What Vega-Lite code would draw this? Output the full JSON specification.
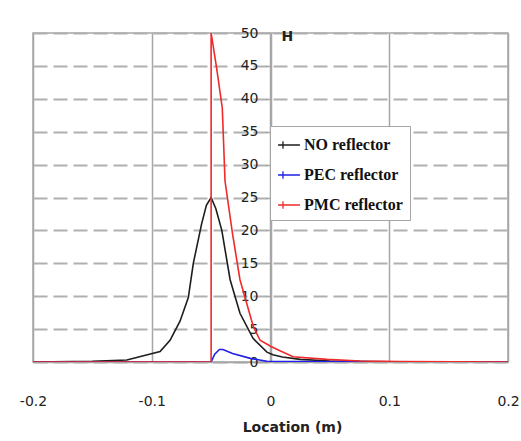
{
  "$schema": "https://vega.github.io/schema/vega-lite/v6.json",
  "autosize": "none",
  "width": 475,
  "height": 329,
  "padding": {"left": 33, "top": 33, "right": 13, "bottom": 79},
  "background": "white",
  "config": {
    "view": {"stroke": "#a6a6a6", "strokeWidth": 1.5},
    "font": "DejaVu Sans"
  },
  "data": {
    "values": [
      {"s": "NO reflector", "i": 1, "x": -0.2, "h": 0},
      {"s": "NO reflector", "i": 2, "x": -0.15, "h": 0.1},
      {"s": "NO reflector", "i": 3, "x": -0.121, "h": 0.3},
      {"s": "NO reflector", "i": 4, "x": -0.093, "h": 1.6},
      {"s": "NO reflector", "i": 5, "x": -0.0846, "h": 3.3},
      {"s": "NO reflector", "i": 6, "x": -0.0762, "h": 6.2},
      {"s": "NO reflector", "i": 7, "x": -0.0692, "h": 9.8},
      {"s": "NO reflector", "i": 8, "x": -0.065, "h": 15},
      {"s": "NO reflector", "i": 9, "x": -0.058, "h": 21},
      {"s": "NO reflector", "i": 10, "x": -0.054, "h": 23.8},
      {"s": "NO reflector", "i": 11, "x": -0.05, "h": 25},
      {"s": "NO reflector", "i": 12, "x": -0.046, "h": 23.3},
      {"s": "NO reflector", "i": 13, "x": -0.041, "h": 20},
      {"s": "NO reflector", "i": 14, "x": -0.034, "h": 12.5},
      {"s": "NO reflector", "i": 15, "x": -0.0257, "h": 7.4},
      {"s": "NO reflector", "i": 16, "x": -0.0147, "h": 3.6},
      {"s": "NO reflector", "i": 17, "x": -0.003, "h": 1.5},
      {"s": "NO reflector", "i": 18, "x": 0.002, "h": 1.1},
      {"s": "NO reflector", "i": 19, "x": 0.01, "h": 0.75},
      {"s": "NO reflector", "i": 20, "x": 0.025, "h": 0.4},
      {"s": "NO reflector", "i": 21, "x": 0.05, "h": 0.15},
      {"s": "NO reflector", "i": 22, "x": 0.1, "h": 0.03},
      {"s": "NO reflector", "i": 23, "x": 0.2, "h": 0},
      {"s": "PEC reflector", "i": 1, "x": -0.2, "h": 0},
      {"s": "PEC reflector", "i": 2, "x": -0.05, "h": 0},
      {"s": "PEC reflector", "i": 3, "x": -0.047, "h": 1.2},
      {"s": "PEC reflector", "i": 4, "x": -0.043, "h": 1.9},
      {"s": "PEC reflector", "i": 5, "x": -0.04, "h": 1.9},
      {"s": "PEC reflector", "i": 6, "x": -0.032, "h": 1.3},
      {"s": "PEC reflector", "i": 7, "x": -0.017, "h": 0.55},
      {"s": "PEC reflector", "i": 8, "x": -0.003, "h": 0.1},
      {"s": "PEC reflector", "i": 9, "x": 0.02, "h": 0.05},
      {"s": "PEC reflector", "i": 10, "x": 0.2, "h": 0},
      {"s": "PMC reflector", "i": 1, "x": -0.2, "h": 0},
      {"s": "PMC reflector", "i": 2, "x": -0.05, "h": 0},
      {"s": "PMC reflector", "i": 3, "x": -0.05, "h": 50},
      {"s": "PMC reflector", "i": 4, "x": -0.0453, "h": 44.6},
      {"s": "PMC reflector", "i": 5, "x": -0.0406, "h": 38.6},
      {"s": "PMC reflector", "i": 6, "x": -0.0383, "h": 27.5},
      {"s": "PMC reflector", "i": 7, "x": -0.032, "h": 19.5},
      {"s": "PMC reflector", "i": 8, "x": -0.0257, "h": 12.5},
      {"s": "PMC reflector", "i": 9, "x": -0.0145, "h": 5.4},
      {"s": "PMC reflector", "i": 10, "x": -0.0088, "h": 3.3},
      {"s": "PMC reflector", "i": 11, "x": 0, "h": 2.4},
      {"s": "PMC reflector", "i": 12, "x": 0.008, "h": 1.7},
      {"s": "PMC reflector", "i": 13, "x": 0.019, "h": 0.8},
      {"s": "PMC reflector", "i": 14, "x": 0.0476, "h": 0.4},
      {"s": "PMC reflector", "i": 15, "x": 0.0754, "h": 0.15},
      {"s": "PMC reflector", "i": 16, "x": 0.109, "h": 0.05},
      {"s": "PMC reflector", "i": 17, "x": 0.2, "h": 0}
    ]
  },
  "mark": {"type": "line", "strokeWidth": 1.6, "clip": true},
  "encoding": {
    "x": {
      "field": "x",
      "type": "quantitative",
      "scale": {"domain": [-0.2, 0.2], "nice": false, "zero": false},
      "axis": {
        "values": [-0.2, -0.1, 0, 0.1, 0.2],
        "labelExpr": "'' + datum.value",
        "ticks": false,
        "domain": true,
        "domainColor": "#a6a6a6",
        "domainWidth": 1.5,
        "grid": true,
        "gridColor": "#a6a6a6",
        "gridWidth": 1.5,
        "labelFont": "DejaVu Sans",
        "labelFontSize": 14,
        "labelColor": "#222222",
        "labelPadding": 32,
        "labelFlush": false,
        "title": "Location (m)",
        "titleFont": "DejaVu Sans",
        "titleFontSize": 14,
        "titleFontWeight": "bold",
        "titleColor": "#222222",
        "titlePadding": 12,
        "titleX": 259
      }
    },
    "y": {
      "field": "h",
      "type": "quantitative",
      "scale": {"domain": [0, 50], "nice": false},
      "axis": {
        "values": [0, 5, 10, 15, 20, 25, 30, 35, 40, 45, 50],
        "offset": -237,
        "domainColor": "#a6a6a6",
        "domainWidth": 1.5,
        "ticks": true,
        "tickColor": "#a6a6a6",
        "tickSize": 4,
        "tickWidth": 1.5,
        "grid": true,
        "gridColor": "#b0b0b0",
        "gridWidth": 2,
        "gridDash": [14, 6],
        "labelFont": "DejaVu Sans",
        "labelFontSize": 14,
        "labelColor": "#222222",
        "labelPadding": 8,
        "title": "H",
        "titleAngle": 0,
        "titleAlign": "left",
        "titleBaseline": "top",
        "titleX": 11,
        "titleY": -4,
        "titleFont": "DejaVu Sans",
        "titleFontSize": 14,
        "titleFontWeight": "bold",
        "titleColor": "#222222"
      }
    },
    "color": {
      "field": "s",
      "type": "nominal",
      "scale": {
        "domain": ["NO reflector", "PEC reflector", "PMC reflector"],
        "range": ["#1e1e1e", "#2020e6", "#ee2a2a"]
      },
      "legend": {
        "orient": "none",
        "legendX": 237,
        "legendY": 93,
        "title": null,
        "symbolType": "M-1,0H1M-0.55,-0.35V0.35",
        "symbolSize": 480,
        "symbolStrokeWidth": 1.3,
        "labelFont": "Liberation Serif",
        "labelFontSize": 16,
        "labelFontWeight": "bold",
        "labelColor": "#111111",
        "labelOffset": 3,
        "rowPadding": 10,
        "padding": 7,
        "strokeColor": "#a6a6a6",
        "fillColor": "white"
      }
    },
    "order": {"field": "i", "type": "quantitative"}
  }
}
